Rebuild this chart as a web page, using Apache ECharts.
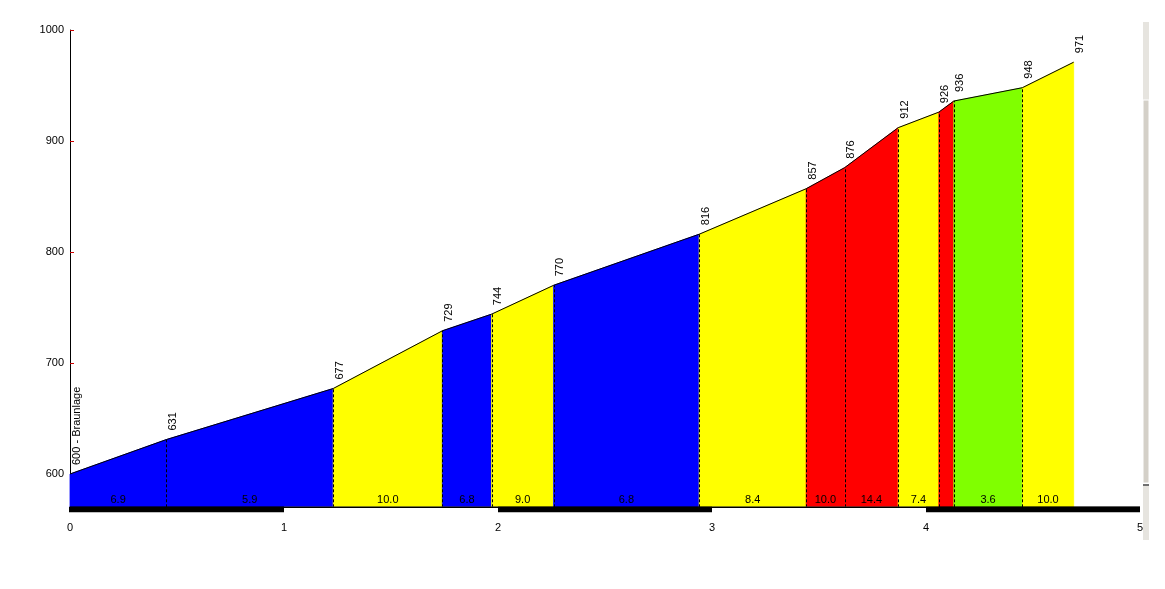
<!DOCTYPE html>
<html>
<head>
<meta charset="utf-8">
<script src="https://cdn.jsdelivr.net/npm/echarts@6/dist/echarts.min.js"></script>
<style>html,body{margin:0;padding:0;background:#fff}#c{width:1165px;height:589px}</style>
</head>
<body>
<div id="c"></div>
<script>
// Distance (km) of each profile point
var distKm = [0, 0.45, 1.23, 1.74, 1.97, 2.26, 2.94, 3.44, 3.62, 3.87, 4.06, 4.13, 4.45, 4.69];
// Elevation (m) at each point
var elevM = [600, 631, 677, 729, 744, 770, 816, 857, 876, 912, 926, 936, 948, 971];
// Point labels
var pointLabels = ['600 - Braunlage', '631', '677', '729', '744', '770', '816', '857', '876', '912', '926', '936', '948', '971'];
// Gradient (%) label of each segment
var gradeLabels = ['6.9', '5.9', '10.0', '6.8', '9.0', '6.8', '8.4', '10.0', '14.4', '7.4', '', '3.6', '10.0'];
// Colour class of each segment
var segClass = ['b', 'b', 'y', 'b', 'y', 'b', 'y', 'r', 'r', 'y', 'r', 'g', 'y'];
// Axis ticks
var yTicks = [600, 700, 800, 900, 1000];
var kmMarks = [0, 1, 2, 3, 4];

var palette = { b: '#0000FF', y: '#FFFF00', r: '#FF0000', g: '#80FF00' };
var Y_MIN = 570, Y_MAX = 1000;
var FONT = '11px "Liberation Sans", Arial, sans-serif';

function txt(x, y, s, align, valign, rot) {
  return {
    type: 'text', x: x, y: y, rotation: rot || 0,
    style: {
      text: s, font: FONT, fill: '#000', textFill: '#000',
      align: align, textAlign: align, verticalAlign: valign, textVerticalAlign: valign
    }
  };
}

var chart = echarts.init(document.getElementById('c'), null, { renderer: 'canvas' });

var segData = gradeLabels.map(function (g, i) { return [i]; });
var ptData = distKm.map(function (d, i) { return [d, elevM[i], i]; });

chart.setOption({
  animation: false,
  backgroundColor: '#fff',
  grid: { left: 70, right: 25, top: 30, height: 477.3 },
  xAxis: {
    type: 'value', min: 0, max: 5, interval: 1,
    axisLine: { show: false }, axisTick: { show: false }, splitLine: { show: false },
    axisLabel: { color: '#000', fontSize: 11, fontFamily: 'Liberation Sans', margin: 15, showMaxLabel: true, showMinLabel: true }
  },
  yAxis: {
    type: 'value', min: Y_MIN, max: Y_MAX,
    axisLine: { show: true, lineStyle: { color: '#000', width: 1 } },
    axisTick: { show: true, inside: true, length: 4, lineStyle: { color: '#cc0000' }, customValues: yTicks },
    axisLabel: { color: '#000', fontSize: 11, fontFamily: 'Liberation Sans', margin: 6, customValues: yTicks,
      formatter: function (v) { return String(v); } },
    splitLine: { show: false }
  },
  series: [
    {
      type: 'custom', z: 2, data: segData,
      renderItem: function (params, api) {
        var i = api.value(0);
        var x0 = distKm[i], x1 = distKm[i + 1];
        var p0b = api.coord([x0, Y_MIN]), p0t = api.coord([x0, elevM[i]]);
        var p1t = api.coord([x1, elevM[i + 1]]), p1b = api.coord([x1, Y_MIN]);
        var col = palette[segClass[i]];
        var children = [{
          type: 'polygon',
          shape: { points: [p0b, p0t, p1t, p1b] },
          style: { fill: col, stroke: col, lineWidth: 0.8 }
        }];
        if (i > 0) {
          children.push({
            type: 'line', z2: 5,
            shape: { x1: Math.round(p0b[0]) + 0.5, y1: p0b[1], x2: Math.round(p0t[0]) + 0.5, y2: p0t[1] },
            style: { stroke: '#000', lineWidth: 1, lineDash: [3, 2] }
          });
        }
        if (gradeLabels[i]) {
          var mid = api.coord([(x0 + x1) / 2, Y_MIN]);
          children.push(txt(mid[0], mid[1] - 7, gradeLabels[i], 'center', 'middle'));
        }
        return { type: 'group', children: children };
      }
    },
    {
      type: 'line', z: 3, data: ptData.map(function (p) { return [p[0], p[1]]; }),
      symbol: 'none', lineStyle: { color: '#000', width: 1 }, silent: true
    },
    {
      type: 'custom', z: 4, data: ptData,
      renderItem: function (params, api) {
        var p = api.coord([api.value(0), api.value(1)]);
        return txt(p[0] + 6.5, p[1] - 9, pointLabels[api.value(2)], 'left', 'middle', Math.PI / 2);
      }
    },
    {
      type: 'custom', z: 4, data: kmMarks.map(function (k) { return [k]; }),
      renderItem: function (params, api) {
        var k = api.value(0);
        var a = api.coord([k, Y_MIN]), b = api.coord([k + 1, Y_MIN]);
        var ch = [{
          type: 'rect',
          shape: { x: a[0] - (k === 0 ? 1 : 0), y: a[1] - 0.5, width: b[0] - a[0] + (k === 0 ? 1 : 0), height: 5.5 },
          style: { fill: k % 2 === 0 ? '#000' : '#fff' }
        }, {
          type: 'line',
          shape: { x1: a[0], y1: a[1], x2: b[0], y2: a[1] },
          style: { stroke: '#000', lineWidth: 1.5 }
        }];
        return { type: 'group', children: ch };
      }
    }
  ],
  graphic: [
    { type: 'rect', z: 100, shape: { x: 1143, y: 22, width: 6, height: 78 }, style: { fill: '#e6e4df' } },
    { type: 'rect', z: 100, shape: { x: 1143, y: 100, width: 6, height: 383 }, style: { fill: '#d4d0c8', stroke: '#ffffff', lineWidth: 1 } },
    { type: 'rect', z: 100, shape: { x: 1143, y: 484, width: 6, height: 2 }, style: { fill: '#707070' } },
    { type: 'rect', z: 100, shape: { x: 1143, y: 486, width: 6, height: 54 }, style: { fill: '#e6e4df' } }
  ]
});
</script>
</body>
</html>
